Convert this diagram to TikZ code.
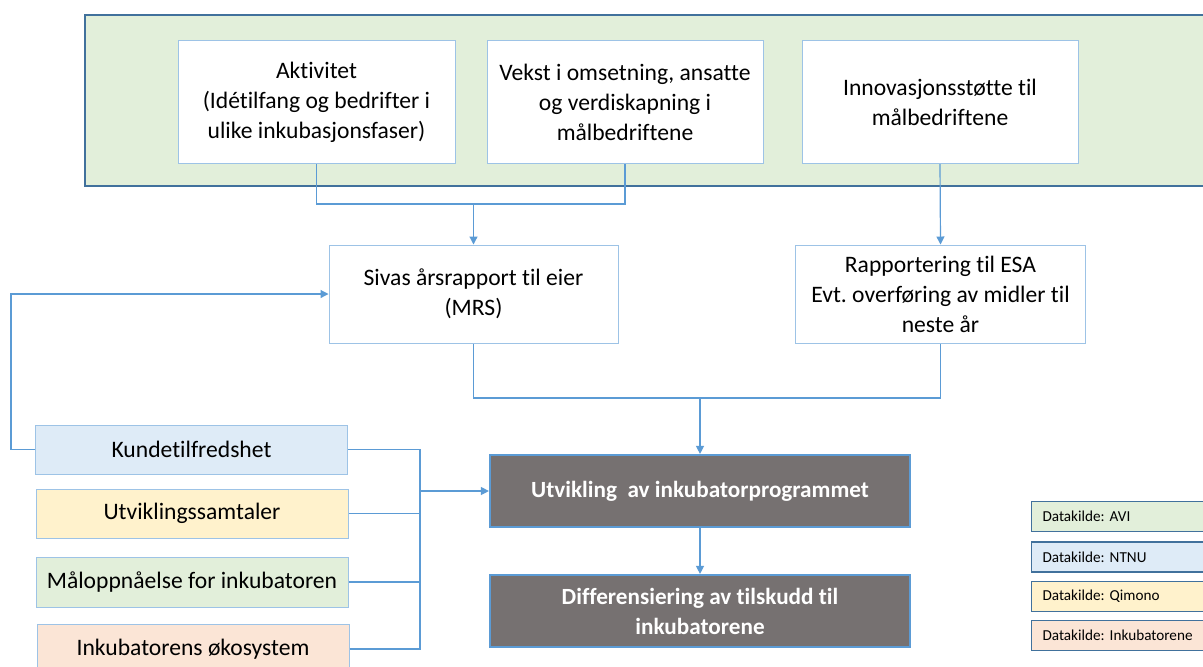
\documentclass[tikz,border=0pt]{standalone}
\usepackage{fontspec}
\setmainfont{Carlito}[Ligatures={NoCommon},RawFeature={-liga;-dlig}]
\frenchspacing
\usetikzlibrary{arrows.meta}
\definecolor{lcol}{RGB}{91,155,213}
\definecolor{bcol}{RGB}{157,195,230}
\definecolor{dcol}{RGB}{65,113,156}
\definecolor{gcol}{RGB}{226,239,218}
\definecolor{ncol}{RGB}{222,235,247}
\definecolor{qcol}{RGB}{255,242,204}
\definecolor{icol}{RGB}{251,229,214}
\definecolor{mcol}{RGB}{118,113,113}
\tikzset{every picture/.style={x=0.5pt,y=-0.5pt}}
\tikzset{box/.style={draw=bcol,fill=white,align=center,inner sep=1pt,line width=0.5pt,font=\fontsize{11.8}{15}\selectfont}}
\tikzset{main/.style={draw=lcol,fill=mcol,text=white,align=center,line width=1.1pt,minimum width=210pt,minimum height=36pt,font=\fontsize{11.6}{15}\selectfont\bfseries}}
\tikzset{src/.style={draw=dcol,text width=84pt,inner xsep=5.5pt,minimum height=15pt,align=left,line width=0.6pt,font=\fontsize{7.6}{9}\selectfont}}
\tikzset{link/.style={draw=lcol,line width=0.6pt}}
\tikzset{edge/.style={link,-{Triangle[length=4pt,width=4pt]}}}

\begin{document}
\begin{tikzpicture}
\useasboundingbox (0,0) rectangle (1203,666);
\clip (0,0) rectangle (1203,666);
\fill [white] (0,0) rectangle (1203,666);

\node [draw=dcol,fill=gcol,line width=0.7pt,minimum width=567.5pt,minimum height=85.5pt] (frame) at (652.5,100.5) {};

\node [box,minimum width=138.5pt,minimum height=61.5pt] (akt) at (316.5,102) {Aktivitet\\(Idétilfang og bedrifter i\\ulike inkubasjonsfaser)};
\node [box,minimum width=138pt,minimum height=61.5pt] (vekst) at (625,102) {Vekst i omsetning, ansatte\\og verdiskapning i\\målbedriftene};
\node [box,minimum width=138pt,minimum height=61.5pt] (innov) at (940,102) {Innovasjonsstøtte til\\målbedriftene};

\node [box,minimum width=144.5pt,minimum height=49pt] (sivas) at (473.5,294) {Sivas årsrapport til eier\\(MRS)};
\node [box,minimum width=145pt,minimum height=49pt] (rapp) at (940.5,294) {Rapportering til ESA\\Evt. overføring av midler til\\neste år};

\node [main] (utv) at (700,491) {Utvikling \ av inkubatorprogrammet};
\node [main] (diff) at (700,611) {Differensiering av tilskudd til\\inkubatorene};

\node [box,fill=ncol,minimum width=156pt,minimum height=24.5pt] (kunde) at (191.5,449.5) {Kundetilfredshet};
\node [box,fill=qcol,minimum width=156pt,minimum height=24.5pt] (samt) at (192,513.5) {Utviklingssamtaler};
\node [box,fill=gcol,minimum width=156pt,minimum height=25pt] (maal) at (192,582) {Måloppnåelse for inkubatoren};
\node [box,fill=icol,minimum width=156pt,minimum height=25pt] (oko) at (193,649) {Inkubatorens økosystem};

\node [src,fill=gcol] (avi) at (1126.5,516.5) {Datakilde: AVI};
\node [src,fill=ncol] (ntnu) at (1126.5,557) {Datakilde: NTNU};
\node [src,fill=qcol] (qim) at (1126.5,596.5) {Datakilde: Qimono};
\node [src,fill=icol] (inkub) at (1126.5,635.5) {Datakilde: Inkubatorene};

\coordinate (j1) at (473.5,204);
\coordinate (j2) at (700,398);
\coordinate (j3) at (420,491);
\coordinate (fb) at (11,294);

\draw [link] (akt.south) |- (j1) -| (vekst.south);
\draw [edge] (j1) -- (sivas.north);
\draw [edge] (innov.south) -- (rapp.north);

\draw [link] (sivas.south) |- (j2) -| (rapp.south);
\draw [edge] (j2) -- (utv.north);
\draw [edge] (utv.south) -- (diff.north);

\draw [link] (kunde.east) -| (j3);
\draw [link] (samt.east) -| (j3);
\draw [link] (maal.east) -| (j3);
\draw [link] (oko.east) -| (j3);
\draw [edge] (j3) -- (utv.west);

\draw [edge] (kunde.west) -| (fb) -- (sivas.west);
\end{tikzpicture}
\end{document}
